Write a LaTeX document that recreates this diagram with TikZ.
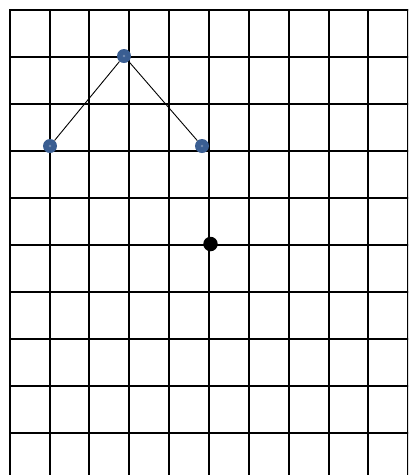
\documentclass[tikz,border=0pt]{standalone}
\usepackage{xcolor}
\usepackage{tikz}
\definecolor{dotblue}{RGB}{58,94,146}
\begin{document}
\begin{tikzpicture}[x=1pt,y=-1pt,line cap=butt,
  grid/.style={line width=2pt},
  link/.style={line width=.9pt},
  bluedot/.style={circle,fill=dotblue,inner sep=0pt,minimum size=14pt},
  blackdot/.style={circle,fill=black,inner sep=0pt,minimum size=14.5pt}]
  \useasboundingbox (0,0) rectangle (408,475);
  \clip (0,0) rectangle (408,475);
  % Square grid, running past the lower and right edges.
  \foreach \x in {10,50,89,129,169,209,249,289,329,368,408}
    \draw[grid] (\x,9)--(\x,480);
  \foreach \y in {10,57,104,151,198,245,292,339,386,433}
    \draw[grid] (9,\y)--(420,\y);
  % The three linked points and the lone one.
  \node[bluedot] (top) at (124,56) {};
  \node[bluedot] (left) at (50,146) {};
  \node[bluedot] (right) at (202,146) {};
  \node[blackdot] (mid) at (210.5,244) {};
  \draw[link] (left)--(top)--(right);
  \foreach \p in {top,left,right} \fill[dotblue!70!white] (\p) circle (1.3);
\end{tikzpicture}
\end{document}
